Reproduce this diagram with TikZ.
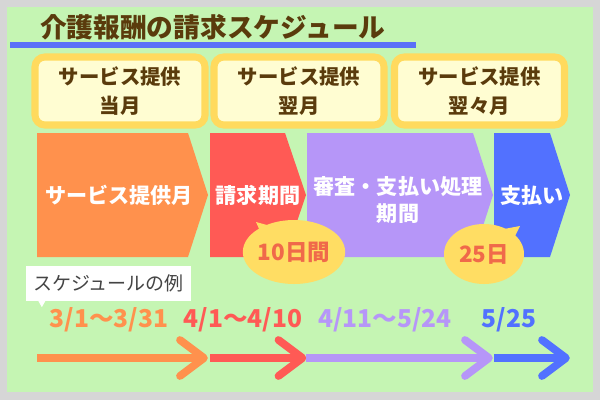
\documentclass[tikz,border=0pt]{standalone}
\usepackage{fontspec}
\setmainfont{Noto Sans CJK JP}
\usetikzlibrary{calc,shapes.geometric,positioning}
\definecolor{frameg}{HTML}{D6D6D6}
\definecolor{panelg}{HTML}{C5F5B3}
\definecolor{titleb}{HTML}{5A3B0C}
\definecolor{lineb}{HTML}{5B70F7}
\definecolor{boxy}{HTML}{FFDA5E}
\definecolor{boxf}{HTML}{FFFDD2}
\definecolor{svco}{HTML}{FF914D}
\definecolor{reqr}{HTML}{FF5A55}
\definecolor{chkp}{HTML}{B696F8}
\definecolor{payb}{HTML}{5271FF}
\definecolor{bubbley}{HTML}{FFDD63}
\definecolor{bubblet}{HTML}{F0694A}
\definecolor{labelg}{HTML}{444444}

\tikzset{
  monthbox/.style={draw=boxy, fill=boxf, line width=10pt, rounded corners=14pt,
    minimum width=8.5cm, minimum height=3.4cm, align=center, text=titleb,
    font=\bfseries\fontsize{29}{41}\selectfont},
  chevtext/.style={text=white, align=center, font=\bfseries\fontsize{30}{39}\selectfont},
  bubble/.style={ellipse, fill=bubbley, text=bubblet, inner sep=0pt,
    font=\bfseries\fontsize{32}{32}\selectfont},
  datetext/.style={font=\bfseries\fontsize{35}{35}\selectfont},
  shaft/.style={line width=11pt},
  arrowhead/.style={line width=11pt, line cap=round, line join=round},
}

\begin{document}
\begin{tikzpicture}[x=0.05cm,y=-0.05cm]
	\fill[frameg] (0,0) rectangle (600,400);
	\useasboundingbox (0,0) rectangle (600,400);
	\fill[panelg] (7,7) rectangle (593,392);

	\node[text=titleb, anchor=west, inner sep=0pt, font=\bfseries\fontsize{38}{38}\selectfont] (title) at (40,27) {介護報酬の請求スケジュール};
	\coordinate (ulstart) at (10,45);
	\coordinate (ulend) at (416,45);
	\draw[lineb, line width=9.4pt] (ulstart) -- (ulend);

	\node[monthbox] (touki) at (120,91) {サービス提供\\当月};
	\node[monthbox] (yoku) at (299,91) {サービス提供\\翌月};
	\node[monthbox] (yokuyoku) at (479.5,91) {サービス提供\\翌々月};

	\fill[svco] (37,133) -- (188,133) -- (208,195) -- (188,257) -- (37,257) -- cycle;
	\fill[reqr] (210,133) -- (285,133) -- (306,195) -- (285,257) -- (210,257) -- cycle;
	\fill[chkp] (307,133) -- (473,133) -- (493,195) -- (473,257) -- (307,257) -- cycle;
	\fill[payb] (494,133) -- (550,133) -- (570,195) -- (550,257) -- (494,257) -- cycle;

	\node[chevtext] (svcmonth) at (119,195) {サービス提供月};
	\node[chevtext] (reqperiod) at (258,195) {請求期間};
	\node[chevtext] (review) at (398,200) {審査・支払い処理\\期間};
	\node[chevtext] (pay) at (532,195) {支払い};

	\fill[bubbley] (256,222) -- (264,240) -- (278,228) -- cycle;
	\node[bubble, minimum width=4.25cm, minimum height=3.2cm] (tendays) at (294,252) {10日間};
	\fill[bubbley] (520,226) -- (504,229) -- (513,240) -- cycle;
	\node[bubble, minimum width=4cm, minimum height=3cm] (payday) at (484,254) {25日};

	\node[fill=white, minimum width=8.25cm, minimum height=1.75cm, inner sep=0pt,
		text=labelg, font=\fontsize{27}{27}\selectfont] (example) at (108.5,283.5) {スケジュールの例};
	\fill[white] ($(example.south west)+(12,-1)$) -- ($(example.south west)+(20,-1)$) -- ($(example.south west)+(16,6)$) -- cycle;

	\node[datetext, text=svco] (dsvc) at (109,320) {3/1〜3/31};
	\node[datetext, text=reqr] (dreq) at (243,320) {4/1〜4/10};
	\node[datetext, text=chkp] (drev) at (385,320) {4/11〜5/24};
	\node[datetext, text=payb] (dpay) at (509,320) {5/25};

	\coordinate (a0) at (37,358);
	\coordinate (a1) at (204,358);
	\coordinate (b0) at (210,358);
	\coordinate (b1) at (302.5,358);
	\coordinate (c0) at (306,358);
	\coordinate (c1) at (489,358);
	\coordinate (e0) at (494,358);
	\coordinate (e1) at (566,358);

	\draw[shaft, svco] (a0) -- (a1);
	\draw[arrowhead, svco] ($(a1)+(-24,-18)$) -- (a1) -- ($(a1)+(-24,18)$);
	\draw[shaft, reqr] (b0) -- (b1);
	\draw[arrowhead, reqr] ($(b1)+(-24,-18)$) -- (b1) -- ($(b1)+(-24,18)$);
	\draw[shaft, chkp] (c0) -- (c1);
	\draw[arrowhead, chkp] ($(c1)+(-24,-18)$) -- (c1) -- ($(c1)+(-24,18)$);
	\draw[shaft, payb] (e0) -- (e1);
	\draw[arrowhead, payb] ($(e1)+(-24,-18)$) -- (e1) -- ($(e1)+(-24,18)$);
\end{tikzpicture}
\end{document}
